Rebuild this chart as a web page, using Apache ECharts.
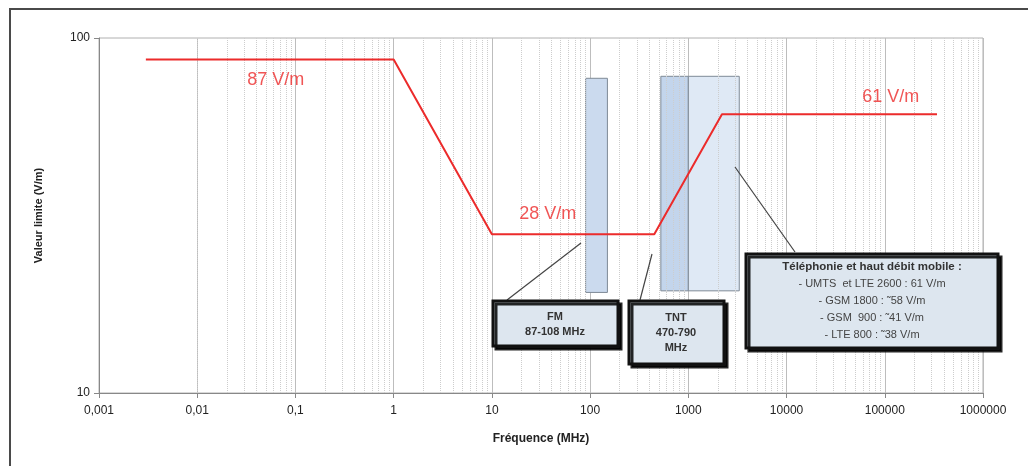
<!DOCTYPE html>
<html><head><meta charset="utf-8">
<script src="https://cdn.jsdelivr.net/npm/echarts@6/dist/echarts.min.js"></script>
<style>html,body{margin:0;padding:0;background:#fff}#c{width:1028px;height:466px}</style>
</head><body><div id="c"></div>
<script>
// ---- data ----
const limitLine = [[0.003, 87], [1, 87], [10, 28], [450, 28], [2200, 61], [340000, 61]];
const lineLabels = [
  { text: '87 V/m', x: 0.063, y: 76 },
  { text: '28 V/m', x: 37, y: 32 },
  { text: '61 V/m', x: 115000, y: 68 }
];
const bands = [
  { name: 'FM', x0: 90, x1: 150, y0: 19.2, y1: 77, color: '#cbdaee' },
  { name: 'TNT', x0: 525, x1: 1000, y0: 19.4, y1: 78, color: '#c3d5ec' },
  { name: 'Tel', x0: 1000, x1: 3300, y0: 19.4, y1: 78, color: '#dfe9f5' }
];
const xTicks = [0.001, 0.01, 0.1, 1, 10, 100, 1000, 10000, 100000, 1000000];
const minorMultipliers = [2, 3, 4, 5, 6, 7, 8, 9];
const fmText = ['FM', '87-108 MHz'];
const tntText = ['TNT', '470-790', 'MHz'];
const telTitle = 'Téléphonie et haut débit mobile :';
const telLines = ['- UMTS  et LTE 2600 : 61 V/m', '- GSM 1800 : ˜58 V/m', '- GSM  900 : ˜41 V/m', '- LTE 800 : ˜38 V/m'];

const minorLines = [];
xTicks.slice(0, -1).forEach(d => minorMultipliers.forEach(m => minorLines.push({ xAxis: d * m })));

function fmtX(v) {
  const s = Number(Number(v).toPrecision(1)).toString();
  return s.replace('.', ',');
}

const chart = echarts.init(document.getElementById('c'));
const boxStyle = { fill: '#dde6ef', stroke: '#111', lineWidth: 3, shadowColor: 'rgba(0,0,0,0.85)', shadowOffsetX: 3, shadowOffsetY: 3, shadowBlur: 0 };
const boxFont = 'bold 11px "Liberation Sans", Arial, sans-serif';

chart.setOption({
  animation: false,
  grid: { left: 99, right: 45, top: 38, bottom: 73, show: true, borderColor: '#b0b0b0', borderWidth: 1, backgroundColor: '#fff' },
  xAxis: {
    type: 'log', logBase: 10, min: 0.001, max: 1000000,
    name: 'Fréquence (MHz)', nameLocation: 'middle', nameGap: 40,
    nameTextStyle: { fontWeight: 'bold', fontSize: 12, color: '#222', fontFamily: 'Liberation Sans' },
    axisLine: { lineStyle: { color: '#888' } },
    axisTick: { show: true, length: 5, lineStyle: { color: '#888' } },
    axisLabel: { interval: 0, formatter: fmtX, color: '#222', fontSize: 12, margin: 12, fontFamily: 'Liberation Sans' },
    splitLine: { show: true, lineStyle: { color: '#bdbdbd', width: 1 } }
  },
  yAxis: {
    type: 'log', logBase: 10, min: 10, max: 100,
    name: 'Valeur limite (V/m)', nameLocation: 'middle', nameGap: 55, nameRotate: 90,
    nameTextStyle: { fontWeight: 'bold', fontSize: 11, color: '#222', fontFamily: 'Liberation Sans' },
    axisLine: { show: true, lineStyle: { color: '#888' } },
    axisTick: { show: true, length: 5, lineStyle: { color: '#888' } },
    axisLabel: { color: '#222', fontSize: 12, margin: 9, fontFamily: 'Liberation Sans' },
    splitLine: { show: false }
  },
  series: [
    {
      type: 'line', data: [], silent: true,
      markLine: {
        silent: true, symbol: 'none', label: { show: false },
        lineStyle: { color: '#cdcdcd', type: 'dotted', width: 1 },
        data: minorLines
      },
      markArea: {
        silent: true,
        data: bands.map(b => [
          { xAxis: b.x0, yAxis: b.y0, itemStyle: { color: b.color, borderColor: '#7f8a96', borderWidth: 1 } },
          { xAxis: b.x1, yAxis: b.y1 }
        ])
      }
    },
    {
      type: 'line', data: limitLine, showSymbol: false, symbol: 'none', silent: true,
      lineStyle: { color: '#ec2b2b', width: 2 }, z: 5
    },
    {
      type: 'scatter', symbolSize: 0, silent: true, z: 6,
      data: lineLabels.map(l => ({ value: [l.x, l.y], name: l.text })),
      label: { show: true, position: 'inside', formatter: p => p.name, color: '#ec2b2b', fontSize: 18, fontFamily: 'Liberation Sans' }
    }
  ],
  graphic: [
    { type: 'rect', shape: { x: 10, y: 9, width: 1040, height: 480 }, style: { fill: 'none', stroke: '#4a4a4a', lineWidth: 2 }, silent: true, z: 100 },
    // callout lines
    { type: 'line', shape: { x1: 507, y1: 300, x2: 581, y2: 243 }, style: { stroke: '#444', lineWidth: 1.2 }, z: 90 },
    { type: 'line', shape: { x1: 640, y1: 300, x2: 652, y2: 254 }, style: { stroke: '#444', lineWidth: 1.2 }, z: 90 },
    { type: 'line', shape: { x1: 795, y1: 252, x2: 735, y2: 167 }, style: { stroke: '#444', lineWidth: 1.2 }, z: 90 },
    // FM box
    { type: 'rect', shape: { x: 493, y: 301, width: 125, height: 45 }, style: boxStyle, z: 91 },
    { type: 'text', x: 555, y: 324, style: { text: fmText.join('\n'), font: boxFont, fill: '#333', align: 'center', verticalAlign: 'middle', lineHeight: 15 }, z: 92 },
    // TNT box
    { type: 'rect', shape: { x: 629, y: 301, width: 95, height: 63 }, style: boxStyle, z: 91 },
    { type: 'text', x: 676, y: 333, style: { text: tntText.join('\n'), font: boxFont, fill: '#333', align: 'center', verticalAlign: 'middle', lineHeight: 15 }, z: 92 },
    // Telephony box
    { type: 'rect', shape: { x: 746, y: 254, width: 252, height: 94 }, style: boxStyle, z: 91 },
    { type: 'text', x: 872, y: 301, style: {
        text: '{t|' + telTitle + '}\n' + telLines.map(s => '{b|' + s + '}').join('\n'),
        align: 'center', verticalAlign: 'middle',
        rich: {
          t: { fontWeight: 'bold', fontSize: 11.5, fill: '#333', fontFamily: 'Liberation Sans', lineHeight: 17 },
          b: { fontSize: 11, fill: '#444', fontFamily: 'Liberation Sans', lineHeight: 17 }
        } }, z: 92 }
  ]
});
</script></body></html>
